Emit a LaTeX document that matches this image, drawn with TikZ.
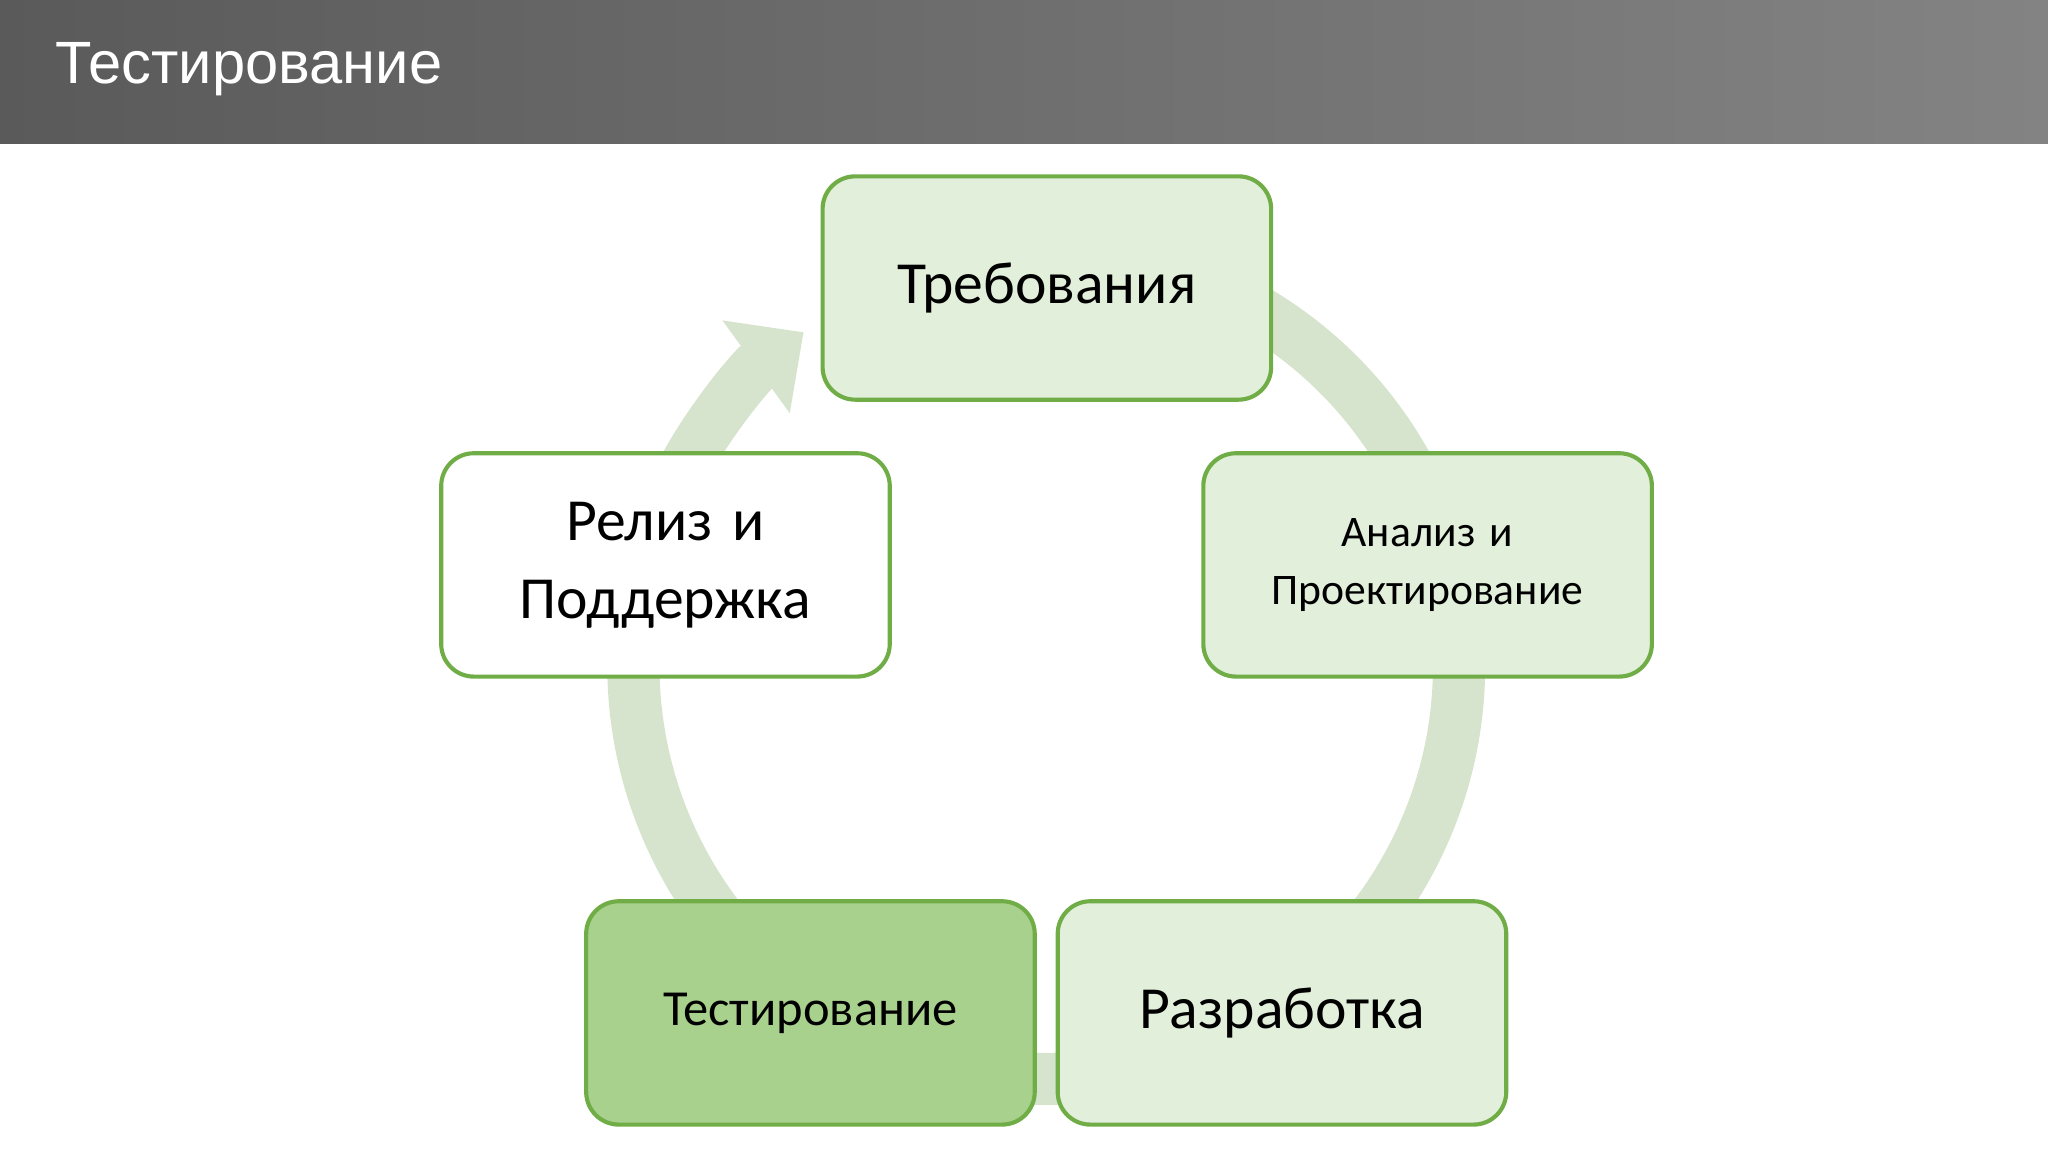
\documentclass[tikz,border=0pt]{standalone}
\usepackage{fontspec}
\setmainfont{Carlito}
\newfontfamily\titlefont{Liberation Sans}
\usetikzlibrary{arrows.meta}
\definecolor{hdrdark}{HTML}{5A5A5A}
\definecolor{hdrlight}{HTML}{838383}
\definecolor{boxfill}{HTML}{E2EFDA}
\definecolor{boxdark}{HTML}{A9D18E}
\definecolor{boxline}{HTML}{70AD47}
\definecolor{ringcol}{HTML}{D6E4CD}
\tikzset{
  phase/.style={draw=boxline, line width=0.9pt, fill=boxfill, rounded corners=0.25cm,
    minimum width=3.43cm, minimum height=1.71cm, align=center, text width=3.2cm},
  ring/.style={draw=ringcol, line width=0.4cm, -{Triangle[width=0.85cm,length=0.45cm]}}
}
\begin{document}
\begin{tikzpicture}
\useasboundingbox (0,0) rectangle (15.68,8.82);
% header
\shade[left color=hdrdark, right color=hdrlight] (0,7.72) rectangle (15.68,8.82);
\node[anchor=west, text=white, font=\titlefont\fontsize{13}{15}\selectfont] (title) at (0.3,8.29) {Тестирование};
% cycle arrow
\coordinate (c) at (8.01,3.72);
\draw[ring] (c) ++(62:3.16) arc[start angle=62, end angle=-234, radius=3.16];
% phases
\node[phase, font=\fontsize{13}{16}\selectfont] (req) at (8.015,6.615) {Требования};
\node[phase, font=\fontsize{9.5}{12.5}\selectfont] (design) at (10.93,4.495) {Анализ и\\Проектирование};
\node[phase, font=\fontsize{13}{16}\selectfont] (dev) at (9.815,1.065) {Разработка};
\node[phase, fill=boxdark, font=\fontsize{11}{14}\selectfont] (test) at (6.205,1.065) {Тестирование};
\node[phase, fill=white, font=\fontsize{13}{17}\selectfont] (rel) at (5.095,4.495) {Релиз и\\Поддержка};
\end{tikzpicture}
\end{document}
